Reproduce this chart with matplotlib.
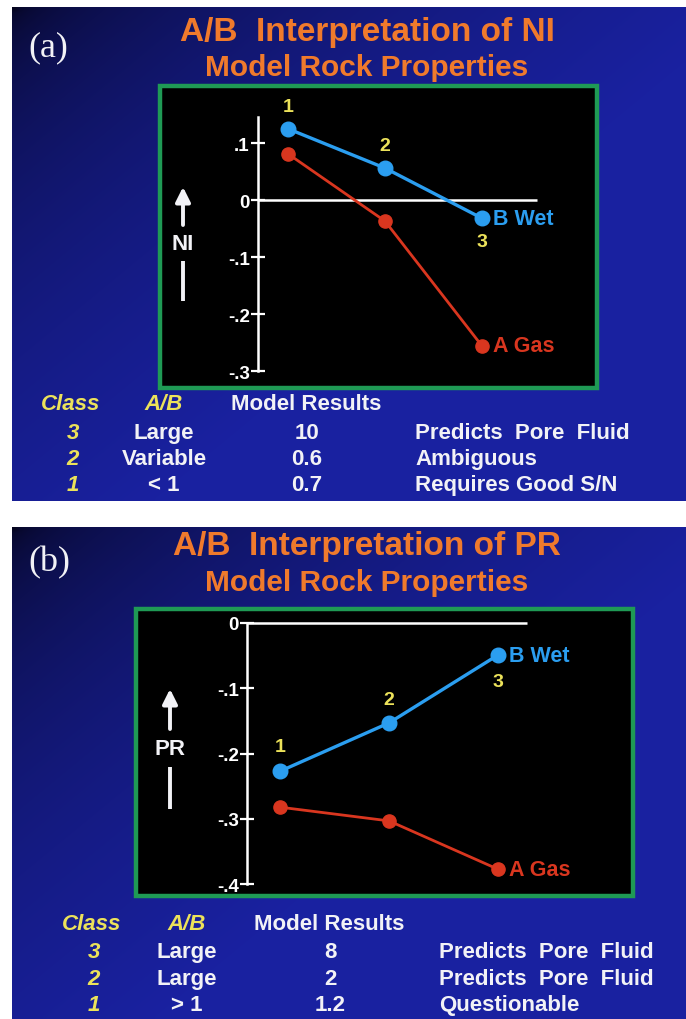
import numpy as np
import matplotlib.pyplot as plt
from matplotlib.patches import Rectangle

# Данные
classes = [1, 2, 3]

ni_wet = [0.125, 0.056, -0.032]
ni_gas = [0.081, -0.037, -0.256]
ni_ticks = [0.1, 0.0, -0.1, -0.2, -0.3]
ni_ticklabels = ['.1', '0', '-.1', '-.2', '-.3']

pr_wet = [-0.227, -0.153, -0.049]
pr_gas = [-0.282, -0.303, -0.377]
pr_ticks = [0.0, -0.1, -0.2, -0.3, -0.4]
pr_ticklabels = ['0', '-.1', '-.2', '-.3', '-.4']

table_header = ['Class', 'A/B', 'Model Results']
ni_class = ['3', '2', '1']
ni_ab = ['Large', 'Variable', '< 1']
ni_result = ['10', '0.6', '0.7']
ni_note = ['Predicts  Pore  Fluid', 'Ambiguous', 'Requires Good S/N']

pr_class = ['3', '2', '1']
pr_ab = ['Large', 'Large', '> 1']
pr_result = ['8', '2', '1.2']
pr_note = ['Predicts  Pore  Fluid', 'Predicts  Pore  Fluid', 'Questionable']

# Цвета
ORANGE = '#f07a2c'
YELLOW = '#ece25a'
WHITE = '#f2f2f6'
BLUE = '#2b9ef0'
RED = '#d9361f'
GREEN = '#1f9a55'
SANS = ['Liberation Sans', 'DejaVu Sans']
SERIF = ['Liberation Serif', 'DejaVu Serif']

W, H = 686, 1020
fig = plt.figure(figsize=(W / 100, H / 100), dpi=100)
fig.patch.set_facecolor('white')

bg = fig.add_axes([0, 0, 1, 1])
bg.set_xlim(0, W)
bg.set_ylim(H, 0)
bg.axis('off')


def panel_bg(x0, y0, x1, y1):
    yy, xx = np.mgrid[0:1:120j, 0:1:120j]
    t = np.clip(0.9 * xx + 0.8 * yy, 0, 1) ** 0.45
    dark = np.array([0.02, 0.02, 0.12])
    light = np.array([0.10, 0.13, 0.63])
    img = dark + (light - dark) * t[..., None]
    bg.imshow(img, extent=(x0, x1, y1, y0), aspect='auto', zorder=0,
              interpolation='bilinear')


def px_axes(x0, y0, x1, y1):
    return fig.add_axes([x0 / W, 1 - y1 / H, (x1 - x0) / W, (y1 - y0) / H])


def draw_panel(top, box, xlim, ylim, spine_x, spine_top, zero_end,
               wet, gas, ticks, ticklabels, lab_off, tag, title):
    # заголовки
    bg.text(28, top + 40, tag, color=WHITE, fontsize=26, family=SERIF,
            ha='left', va='center')
    bg.text(367, top + 24, 'A/B  Interpretation of ' + title, color=ORANGE,
            fontsize=24, fontweight='bold', family=SANS, ha='center', va='center')
    bg.text(367, top + 60, 'Model Rock Properties', color=ORANGE,
            fontsize=21.5, fontweight='bold', family=SANS, ha='center', va='center')

    ax = px_axes(*box)
    ax.set_facecolor('black')
    ax.set_xlim(*xlim)
    ax.set_ylim(*ylim)
    for s in ['top', 'right', 'bottom']:
        ax.spines[s].set_visible(False)
    ax.spines['left'].set_position(('data', spine_x))
    ax.spines['left'].set_bounds(ticks[-1], spine_top)
    ax.spines['left'].set_color('white')
    ax.spines['left'].set_linewidth(1.8)
    ax.set_xticks([])
    ax.set_yticks(ticks, ticklabels, fontweight='bold', family=SANS)
    ax.tick_params(axis='y', direction='inout', length=10, width=1.6,
                   colors='white', labelsize=13.5, pad=1)
    ax.hlines(0, spine_x, zero_end, color='white', lw=1.8)
    ax.add_patch(Rectangle((0, 0), 1, 1, transform=ax.transAxes, fill=False,
                           ec=GREEN, lw=3.2, clip_on=False, zorder=5))

    ax.plot(classes, gas, '-o', color=RED, lw=2.0, ms=9.5, zorder=3)
    ax.plot(classes, wet, '-o', color=BLUE, lw=2.4, ms=10.5, zorder=4)

    for c, y, dy in zip(classes, wet, lab_off):
        ax.annotate(str(c), (c, y), xytext=(0, dy), textcoords='offset points',
                    color=YELLOW, fontsize=14, fontweight='bold', family=SANS,
                    ha='center', va='center')
    ax.annotate('B Wet', (classes[-1], wet[-1]), xytext=(8, 0),
                textcoords='offset points', color=BLUE, fontsize=15.5,
                fontweight='bold', family=SANS, ha='left', va='center')
    ax.annotate('A Gas', (classes[-1], gas[-1]), xytext=(8, 0),
                textcoords='offset points', color=RED, fontsize=15.5,
                fontweight='bold', family=SANS, ha='left', va='center')
    return ax


def axis_name(fg, name, nx, ny, arrow_y, bar_y):
    # подпись оси со стрелкой
    fg.text(nx, ny, name, color=WHITE, fontsize=16, fontweight='bold',
            family=SANS, ha='center', va='center')
    fg.annotate('', xy=(nx, arrow_y[0]), xytext=(nx, arrow_y[1]),
                arrowprops=dict(arrowstyle='-|>', color=WHITE, lw=2.8,
                                mutation_scale=22, shrinkA=0, shrinkB=0))
    fg.plot([nx, nx], bar_y, color=WHITE, lw=2.8, solid_capstyle='butt')


def draw_table(rows_y, cols, cls, ab, res, note):
    hx_class, hx_ab, hx_res, x_note = cols
    kw = dict(fontsize=16, fontweight='bold', family=SANS, va='center')
    bg.text(hx_class, rows_y[0], table_header[0], color=YELLOW, style='italic',
            ha='center', **kw)
    bg.text(hx_ab, rows_y[0], table_header[1], color=YELLOW, style='italic',
            ha='center', **kw)
    bg.text(hx_res, rows_y[0], table_header[2], color=WHITE, ha='center', **kw)
    for i, y in enumerate(rows_y[1:]):
        bg.text(hx_class + 2, y, cls[i], color=YELLOW, style='italic',
                ha='center', **kw)
        bg.text(hx_ab, y, ab[i], color=WHITE, ha='center', **kw)
        bg.text(hx_res + 1, y, res[i], color=WHITE, ha='center', **kw)
        bg.text(x_note, y, note[i], color=WHITE, ha='left', **kw)


# панель (a)
panel_bg(12, 8, W, 502)
draw_panel(8, (159.5, 86.5, 597, 389), (-0.325, 4.186), (-0.3298, 0.2009),
           0.691, 0.146, 3.567, ni_wet, ni_gas, ni_ticks, ni_ticklabels,
           (16, 16, -17), '(a)', 'NI')
draw_table([405, 434, 460, 486], (71, 164, 306, 415),
           ni_class, ni_ab, ni_result, ni_note)

# панель (b)
panel_bg(12, 528, W, H)
draw_panel(523, (135.5, 609.5, 633, 897), (-0.3257, 4.2385), (-0.418, 0.0222),
           0.697, 0.0, 3.266, pr_wet, pr_gas, pr_ticks, pr_ticklabels,
           (18, 17, -19), '(b)', 'PR')
draw_table([925, 953, 980, 1006], (92, 187, 329, 439),
           pr_class, pr_ab, pr_result, pr_note)

# верхний прозрачный слой для подписей осей
fg = fig.add_axes([0, 0, 1, 1])
fg.set_xlim(0, W)
fg.set_ylim(H, 0)
fg.axis('off')
fg.patch.set_alpha(0)
axis_name(fg, 'NI', 183, 245, (188, 226), (262, 302))
axis_name(fg, 'PR', 170, 750, (690, 730), (768, 810))

fig.savefig('out.png', dpi=100, facecolor='white')
